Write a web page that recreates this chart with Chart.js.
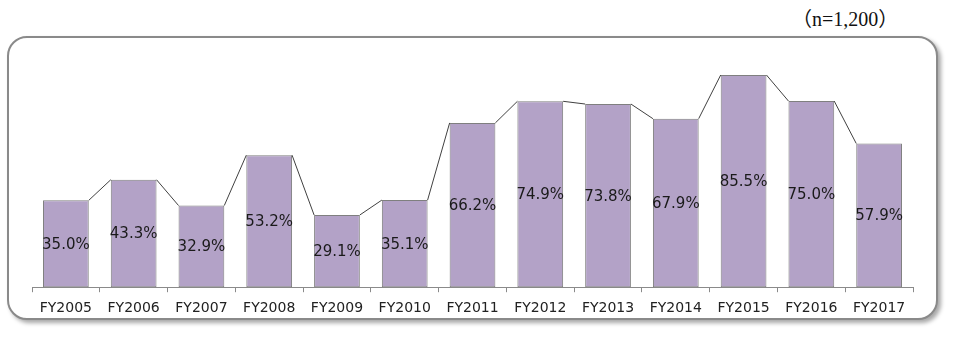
<!DOCTYPE html>
<html>
<head>
<meta charset="utf-8">
<script src="https://cdn.jsdelivr.net/npm/chart.js@4/dist/chart.umd.min.js"></script>
<style>
  html, body { margin:0; padding:0; background:#fff; }
  body { width:954px; height:337px; position:relative; overflow:hidden; }
  .frame {
    position:absolute; left:7px; top:36px; width:927px; height:280px;
    border:2px solid #8a8a8a; border-radius:20px;
    box-shadow:3px 3px 4px rgba(0,0,0,0.35);
    background:#fff;
  }
  .note {
    position:absolute; left:792px; top:3px;
    font-family:"Liberation Serif","Noto Sans CJK JP",serif; font-size:20px; color:#111;
  }
  #wrap { position:absolute; left:0; top:0; width:954px; height:337px; }
</style>
</head>
<body>
<div class="note">（n=1,200）</div>
<div class="frame"></div>
<div id="wrap"><canvas id="chart"></canvas></div>
<script>
// fiscal years and share of respondents (%)
const years = ['FY2005','FY2006','FY2007','FY2008','FY2009','FY2010','FY2011',
               'FY2012','FY2013','FY2014','FY2015','FY2016','FY2017'];
const shares = [35.0, 43.3, 32.9, 53.2, 29.1, 35.1, 66.2, 74.9, 73.8, 67.9, 85.5, 75.0, 57.9];

// joins the top-right corner of each bar to the top-left corner of the next
const seriesLines = {
  id: 'seriesLines',
  afterDatasetsDraw(chart){
    const bars = chart.getDatasetMeta(0).data;
    const ctx = chart.ctx;
    ctx.save();
    ctx.strokeStyle = '#404040';
    ctx.lineWidth = 1;
    ctx.beginPath();
    for (let i = 0; i < bars.length - 1; i++){
      const a = bars[i].getProps(['x','y','width'], true);
      const b = bars[i+1].getProps(['x','y','width'], true);
      ctx.moveTo(a.x + a.width/2, a.y);
      ctx.lineTo(b.x - b.width/2, b.y);
    }
    ctx.stroke();
    ctx.restore();
  }
};

// value text centred inside each bar
const barLabels = {
  id: 'barLabels',
  afterDraw(chart){
    const bars = chart.getDatasetMeta(0).data;
    const ctx = chart.ctx;
    ctx.save();
    ctx.font = '15px "DejaVu Sans", Verdana, sans-serif';
    ctx.fillStyle = '#1a1a1a';
    ctx.textAlign = 'center';
    ctx.textBaseline = 'middle';
    bars.forEach((bar, i) => {
      const p = bar.getProps(['x','y','base'], true);
      ctx.fillText(shares[i].toFixed(1) + '%', p.x, (p.y + p.base)/2 + 1);
    });
    ctx.restore();
  }
};

new Chart(document.getElementById('chart'), {
  type: 'bar',
  data: {
    labels: years,
    datasets: [{
      data: shares,
      backgroundColor: '#B3A2C7',
      borderColor: '#7f7f7f',
      borderWidth: 1,
      borderSkipped: false,
      barPercentage: 0.675,
      categoryPercentage: 1
    }]
  },
  options: {
    responsive: true,
    maintainAspectRatio: false,
    animation: false,
    layout: { padding: { left: 32, right: 41, top: 39, bottom: 12 } },
    plugins: { legend: { display:false }, tooltip: { enabled:false } },
    scales: {
      x: {
        grid: { offset:true, drawOnChartArea:false, drawTicks:true, tickLength:5, color:'#8a8a8a' },
        border: { display:true, color:'#8a8a8a', width:1 },
        ticks: { color:'#222', padding:8, font:{ family:'"DejaVu Sans", Verdana, sans-serif', size:14 }, maxRotation:0 }
      },
      y: { display:false, min:0, max:100 }
    }
  },
  plugins: [seriesLines, barLabels]
});
</script>
</body>
</html>
